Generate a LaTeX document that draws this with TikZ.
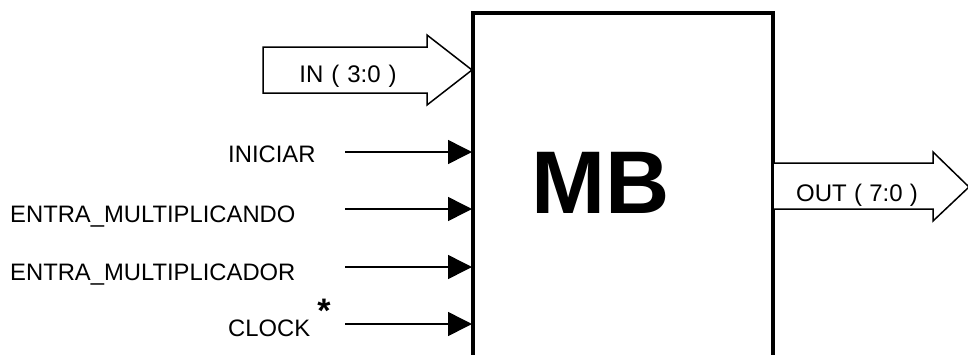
\documentclass[tikz,border=0pt]{standalone}
\usepackage{fontspec}
\setmainfont{Liberation Sans}
\usetikzlibrary{arrows.meta}
\begin{document}
\begin{tikzpicture}[x=1pt,y=-1pt,
  lbl/.style={anchor=base west,inner sep=0pt,font=\fontsize{23.8}{25}\selectfont},
  buslbl/.style={anchor=base,inner sep=0pt,font=\fontsize{24}{26}\selectfont},
  sig/.style={line width=1.5pt,-{Triangle[length=24pt,width=24pt]}},
  bus/.style={line width=1.5pt,fill=white,line join=miter},
  boxline/.style={line width=3.2pt}]
\useasboundingbox (0,0) rectangle (968,354);
\clip (0,0) rectangle (968,354);
% block
\coordinate (bl) at (473,360);
\coordinate (tl) at (473,13);
\coordinate (tr) at (773,13);
\coordinate (br) at (773,360);
\draw[boxline] (bl) -- (tl) -- (tr) -- (br);
\node[anchor=base,inner sep=0pt,font=\bfseries\fontsize{89}{90}\selectfont] (mb) at (601,213) {MB};
% IN bus
\draw[bus] (263,47) -- (427,47) -- (427,35) -- (472,70) -- (427,105) -- (427,93) -- (263,93) -- cycle;
\node[buslbl] (in) at (348,82) {IN\hspace{0.33em}(\hspace{0.33em}3:0\hspace{0.33em})};
% OUT bus
\draw[bus] (774,163) -- (933,163) -- (933,152) -- (969,187) -- (933,221) -- (933,209) -- (774,209);
\node[buslbl] (out) at (857,201) {OUT\hspace{0.3em}(\hspace{0.3em}7:0\hspace{0.3em})};
% input labels
\node[lbl] (iniciar) at (228,162) {INICIAR};
\node[lbl] (emdo) at (10,222) {ENTRA\_MULTIPLICANDO};
\node[lbl] (emdor) at (10,280) {ENTRA\_MULTIPLICADOR};
\node[lbl] (clock) at (228,336) {CLOCK};
\node[inner sep=0pt,font=\bfseries\fontsize{34}{36}\selectfont] (ast) at (324,311) {*};
% signal lines
\coordinate (s1) at (345,152); \coordinate (e1) at (472,152);
\coordinate (s2) at (345,209); \coordinate (e2) at (472,209);
\coordinate (s3) at (345,267); \coordinate (e3) at (472,267);
\coordinate (s4) at (345,324); \coordinate (e4) at (472,324);
\draw[sig] (s1) -- (e1);
\draw[sig] (s2) -- (e2);
\draw[sig] (s3) -- (e3);
\draw[sig] (s4) -- (e4);
\end{tikzpicture}
\end{document}
